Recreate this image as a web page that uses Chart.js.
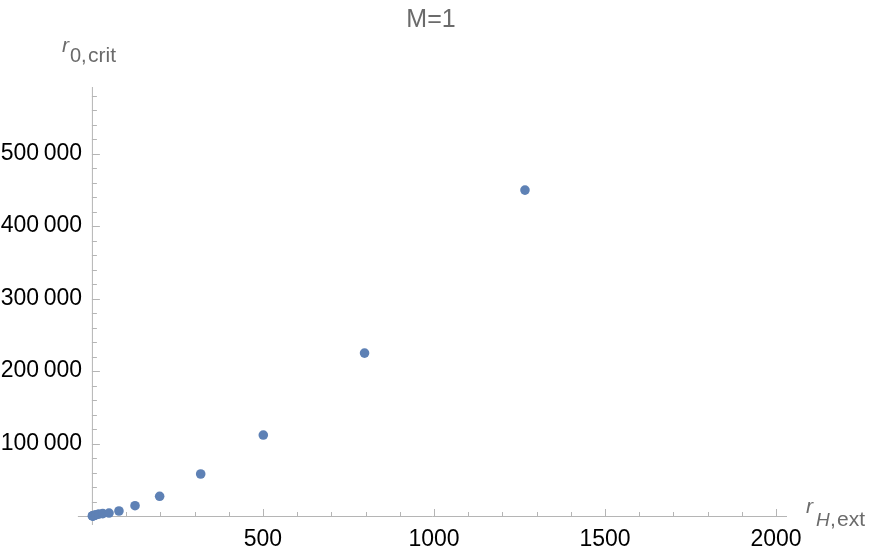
<!DOCTYPE html>
<html>
<head>
<meta charset="utf-8">
<script src="https://cdn.jsdelivr.net/npm/chart.js@4/dist/chart.umd.min.js"></script>
<style>
  html, body { margin: 0; padding: 0; background: #fff; }
  #wrap { width: 872px; height: 557px; position: relative; }
</style>
</head>
<body>
<div id="wrap"><canvas id="cvx" width="872" height="557"></canvas></div>
<script>
// valores (r_H,ext vs r_0,crit, M=1)
const rHext = [1.3, 2, 3.2, 5, 7.9, 12.6, 20, 31.6, 50, 79, 126, 198, 318, 501, 797, 1266];
const r0crit = [60, 120, 250, 500, 1000, 1800, 2600, 3300, 4100, 6900, 14200, 27200, 58000, 111700, 224800, 449700];
const xTicks = [500, 1000, 1500, 2000];
const yTicks = [100000, 200000, 300000, 400000, 500000];
const yTickLabels = ['100\u2009000', '200\u2009000', '300\u2009000', '400\u2009000', '500\u2009000'];
const titulo = 'M=1';

const gris = '#6b6b6b';
const ejeColor = '#b5b5b5';
const fuente = '"Liberation Sans", Arial, sans-serif';

const puntos = rHext.map((x, i) => ({x: x, y: r0crit[i]}));

// ejes estilo Mathematica: lineas en el origen, marcas hacia adentro
const ejesPlugin = {
  id: 'ejes',
  beforeDatasetsDraw(chart) {
    const ctx = chart.ctx;
    const xs = chart.scales.x, ys = chart.scales.y;
    const a = chart.chartArea;
    const x0 = xs.getPixelForValue(0), y0 = ys.getPixelForValue(0);
    ctx.save();
    ctx.strokeStyle = ejeColor;
    ctx.lineWidth = 1;
    ctx.beginPath();
    // el eje x empieza un poco antes del origen
    ctx.moveTo(xs.getPixelForValue(-41), y0 + 0.5); ctx.lineTo(a.right, y0 + 0.5);
    ctx.moveTo(x0 + 0.5, a.bottom); ctx.lineTo(x0 + 0.5, a.top);
    // marcas x
    for (let v = 100; v <= xs.max; v += 100) {
      const px = Math.round(xs.getPixelForValue(v)) + 0.5;
      const len = v % 500 === 0 ? 7 : 4;
      ctx.moveTo(px, y0); ctx.lineTo(px, y0 - len);
    }
    // marcas y
    for (let v = 20000; v <= ys.max; v += 20000) {
      const py = Math.round(ys.getPixelForValue(v)) + 0.5;
      const len = v % 100000 === 0 ? 8 : 5;
      ctx.moveTo(x0, py); ctx.lineTo(x0 + len, py);
    }
    ctx.stroke();
    ctx.restore();
  },
  afterDraw(chart) {
    const ctx = chart.ctx;
    ctx.save();
    ctx.fillStyle = gris;
    ctx.textBaseline = 'alphabetic';
    // titulo
    ctx.font = '25px ' + fuente;
    ctx.textAlign = 'center';
    ctx.fillText(titulo, 431, 27);
    ctx.textAlign = 'left';
    // etiqueta eje y
    ctx.font = 'italic 21px ' + fuente;
    ctx.fillText('r', 62, 52);
    ctx.font = '20px ' + fuente;
    ctx.fillText('0,', 70, 62);
    ctx.font = '21px ' + fuente;
    ctx.fillText('crit', 88, 62);
    // etiqueta eje x
    ctx.font = 'italic 21px ' + fuente;
    ctx.fillText('r', 806, 513);
    ctx.font = 'italic 19px ' + fuente;
    ctx.fillText('H', 816, 526);
    ctx.font = '21px ' + fuente;
    ctx.fillText(',', 830, 526);
    ctx.fillText('ext', 837, 526);
    ctx.restore();
  }
};

const config = {
  type: 'scatter',
  data: {
    datasets: [{
      label: 'r0crit',
      data: puntos,
      pointRadius: 4.8,
      pointHoverRadius: 4.8,
      borderWidth: 0,
      backgroundColor: '#5e81b5',
      borderColor: '#5e81b5',
      clip: false
    }]
  },
  options: {
    responsive: false,
    animation: false,
    events: [],
    layout: { padding: { left: 0, right: 85, top: 87, bottom: 32 } },
    plugins: { legend: { display: false }, tooltip: { enabled: false } },
    scales: {
      x: {
        type: 'linear',
        min: -29,
        max: 2032,
        position: { y: 0 },
        grid: { display: false, drawTicks: false },
        border: { display: false },
        afterBuildTicks: (s) => { s.ticks = xTicks.map(v => ({value: v})); },
        ticks: {
          autoSkip: false,
          maxRotation: 0,
          padding: 10,
          color: '#000',
          font: { family: fuente, size: 23 },
          callback: (v) => String(v)
        }
      },
      y: {
        type: 'linear',
        min: -12400,
        max: 592000,
        position: 'left',
        grid: { display: false, drawTicks: false },
        border: { display: false },
        afterBuildTicks: (s) => { s.ticks = yTicks.map(v => ({value: v})); },
        afterFit: (s) => { s.width = 82; },
        ticks: {
          autoSkip: false,
          padding: 0,
          color: '#000',
          font: { family: fuente, size: 23 },
          callback: (v) => yTickLabels[yTicks.indexOf(v)]
        }
      }
    }
  },
  plugins: [ejesPlugin]
};

const grafico = new Chart(document.getElementById('cvx'), config);
</script>
</body>
</html>
